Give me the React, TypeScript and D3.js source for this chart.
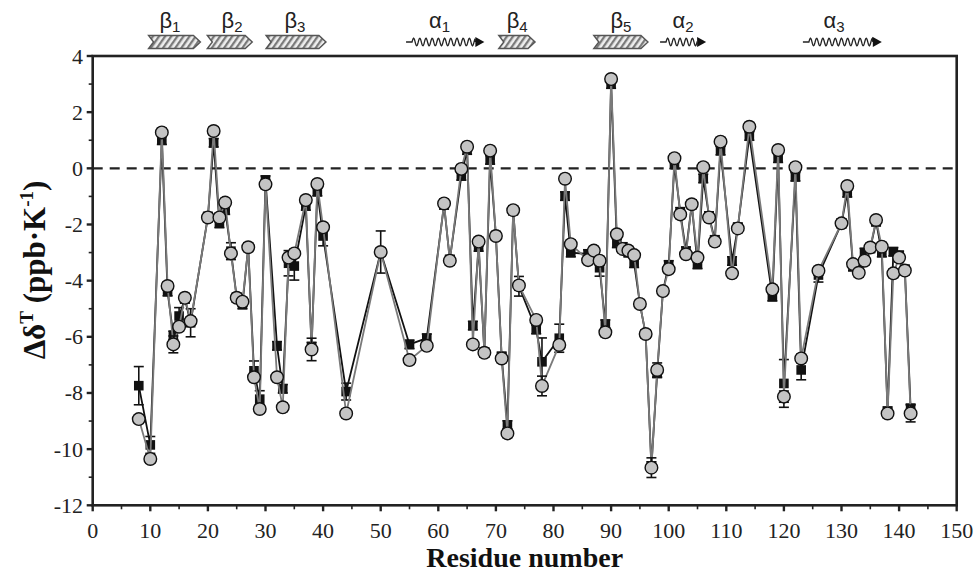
import React from "react";
import * as d3 from "d3";

// ---- data ----
const residues = [8,10,12,13,14,15,16,17,20,21,22,23,24,25,26,27,28,29,30,32,33,34,35,37,38,39,40,44,50,55,58,61,62,64,65,66,67,68,69,70,71,72,73,74,77,78,81,82,83,86,87,88,89,90,91,92,93,94,95,96,97,98,99,100,101,102,103,104,105,106,107,108,109,111,112,114,118,119,120,122,123,126,130,131,132,133,134,135,136,137,138,139,140,141,142];
const squareValues = [-7.74,-9.85,1.0,-4.39,-5.95,-5.26,-4.65,-5.5,-1.72,0.91,-1.96,-1.49,-2.95,-4.6,-4.85,-2.8,-7.21,-8.22,-0.42,-6.32,-7.85,-3.38,-3.48,-1.34,-6.35,-0.83,-2.41,-7.95,-2.98,-6.27,-6.05,-1.3,-3.25,-0.27,0.65,-5.6,-2.8,-6.55,0.3,-2.4,-6.7,-9.14,-1.5,-4.2,-5.74,-6.89,-6.05,-0.99,-3.0,-3.05,-2.95,-3.54,-5.55,3.0,-2.67,-2.8,-3.0,-3.38,-4.83,-5.9,-10.6,-7.3,-4.37,-3.44,0.14,-1.55,-2.95,-1.28,-3.42,-0.36,-1.7,-2.55,0.63,-3.3,-2.1,1.15,-4.57,0.36,-7.66,-0.3,-7.18,-3.8,-1.96,-0.87,-3.5,-3.6,-3.0,-2.85,-1.9,-3.0,-8.65,-2.97,-3.1,-3.6,-8.55];
const circleValues = [-8.93,-10.35,1.28,-4.19,-6.27,-5.64,-4.61,-5.44,-1.75,1.33,-1.75,-1.22,-3.03,-4.61,-4.75,-2.81,-7.44,-8.57,-0.57,-7.44,-8.51,-3.18,-3.03,-1.13,-6.45,-0.56,-2.1,-8.73,-2.98,-6.83,-6.32,-1.25,-3.29,-0.02,0.77,-6.27,-2.61,-6.57,0.63,-2.41,-6.77,-9.44,-1.49,-4.17,-5.4,-7.75,-6.29,-0.37,-2.7,-3.27,-2.93,-3.29,-5.84,3.18,-2.35,-2.87,-2.93,-3.09,-4.83,-5.9,-10.66,-7.18,-4.37,-3.59,0.36,-1.64,-3.06,-1.28,-3.18,0.04,-1.75,-2.61,0.95,-3.74,-2.14,1.48,-4.31,0.65,-8.13,0.04,-6.77,-3.65,-1.96,-0.63,-3.41,-3.72,-3.29,-2.82,-1.84,-2.79,-8.73,-3.74,-3.18,-3.64,-8.73];
const defaultError = 0.15;
const squareErrorOverrides: [number, number][] = [[8,0.68],[10,0.3],[15,0.3],[17,0.5],[24,0.3],[28,0.35],[29,0.3],[34,0.45],[35,0.5],[40,0.35],[44,0.3],[50,0.75],[74,0.35],[78,0.85],[81,0.5],[88,0.3],[120,0.85],[123,0.35],[126,0.25]];
const circleErrorOverrides: [number, number][] = [[14,0.3],[38,0.4],[97,0.35],[78,0.35],[120,0.2],[142,0.3],[98,0.25]];
const xTicks = d3.range(0, 151, 10);
const xMinorTicks = d3.range(5, 150, 10);
const yTicks = d3.range(-12, 5, 2);
const yMinorTicks = d3.range(-11, 4, 2);

const strands = [
  { label: "1", start: 9.7, end: 18.7, labelAt: 13.4 },
  { label: "2", start: 19.9, end: 27.7, labelAt: 24.2 },
  { label: "3", start: 30.1, end: 40.5, labelAt: 35.1 },
  { label: "4", start: 70.5, end: 76.8, labelAt: 73.7 },
  { label: "5", start: 87.0, end: 96.4, labelAt: 91.7 },
];
const helices = [
  { label: "1", start: 54.4, end: 68.0, labelAt: 60.2 },
  { label: "2", start: 98.5, end: 106.5, labelAt: 102.5 },
  { label: "3", start: 123.3, end: 137.0, labelAt: 128.7 },
];

// ---- layout ----
const W = 978, H = 572;
const x = d3.scaleLinear().domain([0, 150]).range([92.7, 956.7]);
const y = d3.scaleLinear().domain([-12, 4]).range([505.3, 56]);

const errFor = (ov: [number, number][], r: number) => {
  const f = ov.find((o) => o[0] === r);
  return f ? f[1] : defaultError;
};

const serifStyle = { fontFamily: "'Liberation Serif', 'DejaVu Serif', 'Noto Serif', 'Times New Roman', Times, serif" };
const sansStyle = { fontFamily: "'Liberation Sans Narrow', 'Liberation Sans', Arial, sans-serif" };

function ErrorBars({ vals, ov }: { vals: number[]; ov: [number, number][] }) {
  return (
    <g stroke="#111" strokeWidth={1.6}>
      {residues.map((r, i) => {
        const e = errFor(ov, r);
        const cx = x(r);
        const y1 = y(vals[i] + e), y2 = y(vals[i] - e);
        return (
          <g key={i}>
            <line x1={cx} x2={cx} y1={y1} y2={y2} />
            <line x1={cx - 5} x2={cx + 5} y1={y1} y2={y1} />
            <line x1={cx - 5} x2={cx + 5} y1={y2} y2={y2} />
          </g>
        );
      })}
    </g>
  );
}

function helixPath(x0: number, x1: number, yc: number) {
  const pts: [number, number][] = [];
  const waveStart = x0 + 6;
  const waveEnd = x1 - 9;
  pts.push([x0, yc]);
  pts.push([waveStart, yc]);
  const period = 6.2;
  for (let t = waveStart; t <= waveEnd; t += 0.5) {
    pts.push([t, yc - 3.8 * Math.sin(((t - waveStart) / period) * 2 * Math.PI)]);
  }
  pts.push([waveEnd, yc]);
  return d3.line()(pts) as string;
}

export default function App() {
  const seriesLine = d3.line<number>().x((_, i) => x(residues[i])).y((v) => y(v));
  const yc = 42;
  const hh = 6.5;
  return (
    <div style={{ position: "absolute", left: 0, top: 0 }}>
      <svg width={W} height={H} style={{ display: "block", background: "#fff" }}>
        <defs>
          <pattern id="hatch" width="5" height="5" patternUnits="userSpaceOnUse" patternTransform="rotate(35)">
            <rect width="5" height="5" fill="#eeeeee" />
            <rect width="2.3" height="5" fill="#7a7a7a" />
          </pattern>
        </defs>

        {/* secondary structure */}
        {strands.map((s, i) => {
          const a = x(s.start), b = x(s.end);
          const d = `M${a},${yc - hh} L${b - 7},${yc - hh} L${b},${yc} L${b - 7},${yc + hh} L${a},${yc + hh} L${a + 5},${yc} Z`;
          return (
            <g key={"s" + i}>
              <path d={d} fill="url(#hatch)" stroke="#555" strokeWidth={1.4} />
              <text x={x(s.labelAt)} y={28} textAnchor="middle" style={sansStyle} fontSize={22} fill="#222">
                β<tspan fontSize={15} dy={4}>{s.label}</tspan>
              </text>
            </g>
          );
        })}
        {helices.map((h, i) => {
          const a = x(h.start), b = x(h.end);
          return (
            <g key={"h" + i}>
              <path d={helixPath(a, b, yc)} fill="none" stroke="#222" strokeWidth={1.3} />
              <path d={`M${b - 9},${yc - 5} L${b},${yc} L${b - 9},${yc + 5} Z`} fill="#111" />
              <text x={x(h.labelAt)} y={28} textAnchor="middle" style={sansStyle} fontSize={22} fill="#222">
                α<tspan fontSize={15} dy={4}>{h.label}</tspan>
              </text>
            </g>
          );
        })}

        {/* zero dashed line */}
        <line x1={x(0)} x2={x(150)} y1={y(0)} y2={y(0)} stroke="#222" strokeWidth={2.4} strokeDasharray="10,7" />

        {/* square series */}
        <path d={seriesLine(squareValues) as string} fill="none" stroke="#111" strokeWidth={1.8} />
        <ErrorBars vals={squareValues} ov={squareErrorOverrides} />
        {residues.map((r, i) => (
          <rect key={"q" + i} x={x(r) - 4.8} y={y(squareValues[i]) - 4.8} width={9.6} height={9.6} fill="#111" />
        ))}

        {/* circle series */}
        <path d={seriesLine(circleValues) as string} fill="none" stroke="#7a7a7a" strokeWidth={1.8} />
        <ErrorBars vals={circleValues} ov={circleErrorOverrides} />
        {residues.map((r, i) => (
          <circle key={"c" + i} cx={x(r)} cy={y(circleValues[i])} r={6.3} fill="#c4c4c4" stroke="#111" strokeWidth={1.4} />
        ))}

        {/* frame */}
        <rect x={x(0)} y={y(4)} width={x(150) - x(0)} height={y(-12) - y(4)} fill="none" stroke="#222" strokeWidth={2.6} />

        {/* y ticks */}
        {yTicks.map((t) => (
          <g key={"yt" + t}>
            <line x1={x(0) - 6} x2={x(0)} y1={y(t)} y2={y(t)} stroke="#222" strokeWidth={2.4} />
            <text x={83} y={y(t) + 7.5} textAnchor="end" style={serifStyle} fontSize={22} fill="#222">{t}</text>
          </g>
        ))}
        {yMinorTicks.map((t) => (
          <line key={"ym" + t} x1={x(0) - 4} x2={x(0)} y1={y(t)} y2={y(t)} stroke="#222" strokeWidth={1.6} />
        ))}
        {/* x ticks */}
        {xTicks.map((t) => (
          <g key={"xt" + t}>
            <line x1={x(t)} x2={x(t)} y1={y(-12)} y2={y(-12) + 6} stroke="#222" strokeWidth={2.4} />
            <text x={x(t)} y={538} textAnchor="middle" style={serifStyle} fontSize={22} fill="#222">{t}</text>
          </g>
        ))}
        {xMinorTicks.map((t) => (
          <line key={"xm" + t} x1={x(t)} x2={x(t)} y1={y(-12)} y2={y(-12) + 4} stroke="#222" strokeWidth={1.6} />
        ))}

        {/* axis titles */}
        <text x={x(75)} y={567} textAnchor="middle" style={serifStyle} fontWeight="bold" fontSize={28} fill="#111">Residue number</text>
        <text transform={`translate(45,270) rotate(-90)`} textAnchor="middle" style={serifStyle} fontWeight="bold" fontSize={31} fill="#111">
          Δδ<tspan fontSize={19} dy={-12}>T</tspan><tspan dy={12}> (ppb·K</tspan><tspan fontSize={19} dy={-12}>-1</tspan><tspan dy={12}>)</tspan>
        </text>
      </svg>
    </div>
  );
}
